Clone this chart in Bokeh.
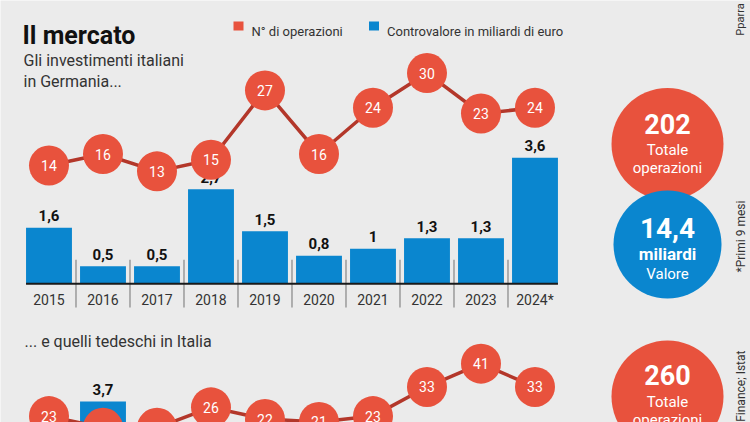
from bokeh.plotting import figure
from bokeh.models import Range1d, Label, BoxAnnotation
from bokeh.core.properties import value
from bokeh.embed import file_html
from bokeh.resources import INLINE

# ---------------- data ----------------
years = ["2015", "2016", "2017", "2018", "2019", "2020", "2021", "2022", "2023", "2024*"]
# Italian investments in Germany
it_de_ops = [14, 16, 13, 15, 27, 16, 24, 30, 23, 24]
it_de_val = [1.6, 0.5, 0.5, 2.7, 1.5, 0.8, 1.0, 1.3, 1.3, 3.6]
it_de_total_ops = 202
it_de_total_val = 14.4
# German investments in Italy (only the visible part of the panel)
de_it_ops = [23, 19, 19, 26, 22, 21, 23, 33, 41, 33]
de_it_val = [None, 3.7, None, None, None, None, None, None, None, None]
de_it_total_ops = 260

# ---------------- style ----------------
W, H = 750, 422
BG = "#ebebeb"
RED = "#e8523d"
BLUE = "#0a86cf"
LINE = "#b3372a"
INK = "#222222"
FONT = "Roboto"

X0, KX = -0.898, 54.0      # x: category index -> px
Y0, KY = -3.963, 35.0      # bars (top panel)

p = figure(width=W, height=H, output_backend="svg", toolbar_location=None,
           x_axis_type=None, y_axis_type=None,
           x_range=Range1d(X0, X0 + W / KX), y_range=Range1d(Y0, Y0 + H / KY),
           min_border=0, background_fill_color=BG, border_fill_color=BG,
           outline_line_color=None)
p.grid.visible = False
p.extra_y_ranges = {
    "ops": Range1d(-30.42, 42.54),
    "ops2": Range1d(20.81, 165.53),
    "val2": Range1d(3.1, 15.157),
}


def fx(rx):
    return X0 + rx / KX


def fy(ry):
    return Y0 + (H - ry) / KY


def lab(text, rx, ry, size, bold=False, color=INK, align="left", baseline="middle", angle=0):
    p.add_layout(Label(x=rx, y=H - ry, x_units="screen", y_units="screen", text=text,
                       text_font=FONT, text_font_size=f"{size}px",
                       text_font_style="bold" if bold else "normal", text_color=color,
                       text_align=align, text_baseline=baseline, angle=angle, angle_units="deg"))


def fmt(v):
    return f"{v:g}".replace(".", ",")


idx = list(range(len(years)))

# ---------------- top panel ----------------
p.vbar(x=idx, top=it_de_val, bottom=0, width=0.85, fill_color=BLUE, line_color=None)
p.segment(x0=[i + 0.5 for i in idx[:-1]], y0=-0.68, x1=[i + 0.5 for i in idx[:-1]], y1=0.69,
          line_color="#9a9a9a", line_width=1.5)
p.segment(x0=[-0.425], y0=[0], x1=[len(years) - 1 + 0.425], y1=[0], line_color="#1a1a1a", line_width=2)
p.text(x=idx, y=it_de_val, text=[fmt(v) for v in it_de_val], y_offset=-12,
       text_font=value(FONT), text_font_size="15px", text_font_style="bold",
       text_color="#111111", text_align="center", text_baseline="middle")
p.text(x=idx, y=[0] * len(idx), text=years, y_offset=16, text_font=value(FONT),
       text_font_size="14px", text_color="#333333", text_align="center", text_baseline="middle")

p.line(x=idx, y=it_de_ops, y_range_name="ops", line_color=LINE, line_width=3.5)
p.scatter(x=idx, y=it_de_ops, y_range_name="ops", size=40, fill_color=RED, line_color=None)
p.text(x=idx, y=it_de_ops, y_range_name="ops", text=[str(v) for v in it_de_ops],
       text_font=value(FONT), text_font_size="14px", text_color="white",
       text_align="center", text_baseline="middle")

# ---------------- bottom panel ----------------
bx = [i for i, v in zip(idx, de_it_val) if v is not None]
bv = [v for v in de_it_val if v is not None]
p.vbar(x=bx, top=bv, bottom=0, width=0.85, y_range_name="val2", fill_color=BLUE, line_color=None)
p.text(x=bx, y=bv, y_range_name="val2", text=[fmt(v) for v in bv], y_offset=-12,
       text_font=value(FONT), text_font_size="15px", text_font_style="bold",
       text_color="#111111", text_align="center", text_baseline="middle")
p.line(x=idx, y=de_it_ops, y_range_name="ops2", line_color=LINE, line_width=3.5)
p.scatter(x=idx, y=de_it_ops, y_range_name="ops2", size=40, fill_color=RED, line_color=None)
p.text(x=idx, y=de_it_ops, y_range_name="ops2", text=[str(v) for v in de_it_ops],
       text_font=value(FONT), text_font_size="14px", text_color="white",
       text_align="center", text_baseline="middle")

# ---------------- summary circles ----------------
p.scatter(x=[fx(667)], y=[fy(143.5)], size=112, fill_color=RED, line_color=None)
p.scatter(x=[fx(667)], y=[fy(244)], size=108, fill_color=BLUE, line_color=None)
p.scatter(x=[fx(667)], y=[fy(396)], size=112, fill_color=RED, line_color=None)

lab(str(it_de_total_ops), 667, 123, 27, bold=True, color="white", align="center")
lab("Totale", 667, 149.5, 15, color="white", align="center")
lab("operazioni", 667, 167.5, 15, color="white", align="center")
lab(fmt(it_de_total_val), 667, 227.5, 28, bold=True, color="white", align="center")
lab("miliardi", 667, 253, 17, bold=True, color="white", align="center")
lab("Valore", 667, 273.5, 15, color="white", align="center")
lab(str(de_it_total_ops), 667, 374, 27, bold=True, color="white", align="center")
lab("Totale", 667, 401, 15, color="white", align="center")
lab("operazioni", 667, 419, 15, color="white", align="center")

# ---------------- titles / legend / notes ----------------
lab("Il mercato", 22, 35, 25, bold=True, color="#111111", baseline="alphabetic")
lab("Gli investimenti italiani", 23, 59.5, 16, color="#333333", baseline="alphabetic")
lab("in Germania...", 23, 81, 16, color="#333333", baseline="alphabetic")
lab("... e  quelli tedeschi in Italia", 24, 341, 16, color="#333333", baseline="alphabetic")

p.add_layout(BoxAnnotation(left=233, right=243, top=H - 21, bottom=H - 30,
                           left_units="screen", right_units="screen", top_units="screen",
                           bottom_units="screen", fill_color=RED, fill_alpha=1, line_color=None))
lab("N° di operazioni", 251, 30.5, 13, color="#333333", baseline="alphabetic")
p.add_layout(BoxAnnotation(left=368.5, right=378.5, top=H - 21, bottom=H - 30,
                           left_units="screen", right_units="screen", top_units="screen",
                           bottom_units="screen", fill_color=BLUE, fill_alpha=1, line_color=None))
lab("Controvalore in miliardi di euro", 386.5, 30.5, 13, color="#333333", baseline="alphabetic")

lab("Pparra", 740, 19, 11, color="#333333", align="center", angle=90)
lab("*Primi 9 mesi", 740, 236, 12, color="#333333", align="center", angle=90)
lab("Finance; Istat", 740, 350, 12, color="#333333", align="right", angle=90)

open("out.html", "w").write(file_html(p, INLINE))
